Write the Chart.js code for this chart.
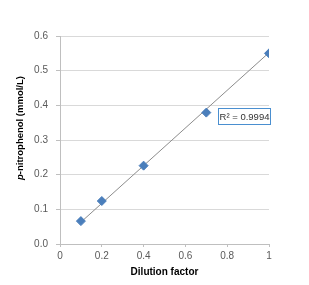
<!DOCTYPE html>
<html>
<head>
<meta charset="utf-8">
<script src="https://cdn.jsdelivr.net/npm/chart.js@4/dist/chart.umd.min.js"></script>
<style>
  html, body { margin: 0; padding: 0; background: #fff; }
  #box { width: 309px; height: 285px; }
</style>
</head>
<body>
<div id="box"><canvas id="chart" width="309" height="285"></canvas></div>
<script>
// measured points
var dilution = [0.1, 0.2, 0.4, 0.7, 1];
var nitrophenol = [0.066, 0.124, 0.226, 0.379, 0.55];
// linear trendline as drawn (ends)
var trendX = [0.1, 1];
var trendY = [0.063, 0.552];
var xTicks = [0, 0.2, 0.4, 0.6, 0.8, 1];
var yTicks = [0, 0.1, 0.2, 0.3, 0.4, 0.5, 0.6];
var r2Label = 'R\u00b2 = 0.9994';

var pts = dilution.map(function (x, i) { return {x: x, y: nitrophenol[i]}; });
var trend = trendX.map(function (x, i) { return {x: x, y: trendY[i]}; });

var fontFam = "'Liberation Sans', Arial, sans-serif";

var extras = {
  id: 'extras',
  afterDraw: function (chart) {
    var ctx = chart.ctx;
    var a = chart.chartArea;
    ctx.save();
    // x title
    ctx.fillStyle = '#000';
    ctx.font = 'bold 10px ' + fontFam;
    ctx.textAlign = 'center';
    ctx.textBaseline = 'middle';
    ctx.fillText('Dilution factor', (a.left + a.right) / 2, 272);
    // y title with italic p
    ctx.translate(20, 128);
    ctx.rotate(-Math.PI / 2);
    ctx.textAlign = 'left';
    var f1 = 'italic bold 9.5px ' + fontFam;
    var f2 = 'bold 9.5px ' + fontFam;
    ctx.font = f1;
    var w1 = ctx.measureText('p').width;
    ctx.font = f2;
    var rest = '-nitrophenol (mmol/L)';
    var w2 = ctx.measureText(rest).width;
    var start = -(w1 + w2) / 2;
    ctx.font = f1;
    ctx.fillText('p', start, 0);
    ctx.font = f2;
    ctx.fillText(rest, start + w1, 0);
    ctx.restore();

    // R2 box
    ctx.save();
    var bx = 218.5, by = 108.5, bw = 52, bh = 16;
    ctx.fillStyle = '#fff';
    ctx.fillRect(bx, by, bw, bh);
    ctx.strokeStyle = '#4a8fd0';
    ctx.lineWidth = 1;
    ctx.strokeRect(bx, by, bw, bh);
    ctx.fillStyle = '#333';
    ctx.font = '9.5px ' + fontFam;
    ctx.textAlign = 'center';
    ctx.textBaseline = 'middle';
    ctx.fillText(r2Label, bx + bw / 2, by + bh / 2 + 0.5);
    ctx.restore();
  }
};

new Chart(document.getElementById('chart'), {
  type: 'scatter',
  data: {
    datasets: [
      {
        type: 'line',
        data: trend,
        borderColor: '#8c8c8c',
        borderWidth: 1,
        pointRadius: 0,
        fill: false,
        order: 2
      },
      {
        data: pts,
        backgroundColor: '#4a7ebb',
        borderColor: '#4a7ebb',
        pointStyle: 'rectRot',
        pointRadius: 4.5,
        order: 1
      }
    ]
  },
  options: {
    responsive: false,
    animation: false,
    layout: { padding: { left: 0, right: 40, top: 36, bottom: 0 } },
    plugins: { legend: { display: false }, tooltip: { enabled: false } },
    scales: {
      x: {
        type: 'linear',
        min: 0, max: 1,
        afterBuildTicks: function (s) { s.ticks = xTicks.map(function (v) { return {value: v}; }); },
        afterFit: function (s) { s.height = 41; },
        ticks: {
          color: '#595959',
          font: { size: 10, family: fontFam },
          padding: 3,
          maxRotation: 0,
          callback: function (v) { return String(Math.round(v * 10) / 10); }
        },
        grid: { drawOnChartArea: false, drawTicks: true, tickLength: 3, color: '#bfbfbf' },
        border: { color: '#bfbfbf' }
      },
      y: {
        min: 0, max: 0.6,
        afterBuildTicks: function (s) { s.ticks = yTicks.map(function (v) { return {value: v}; }); },
        afterFit: function (s) { s.width = 60; },
        ticks: {
          color: '#595959',
          font: { size: 10, family: fontFam },
          padding: 8,
          callback: function (v) { return v.toFixed(1); }
        },
        grid: { color: '#d9d9d9', tickLength: 4, tickColor: '#bfbfbf' },
        border: { color: '#bfbfbf' }
      }
    }
  },
  plugins: [extras]
});
</script>
</body>
</html>
